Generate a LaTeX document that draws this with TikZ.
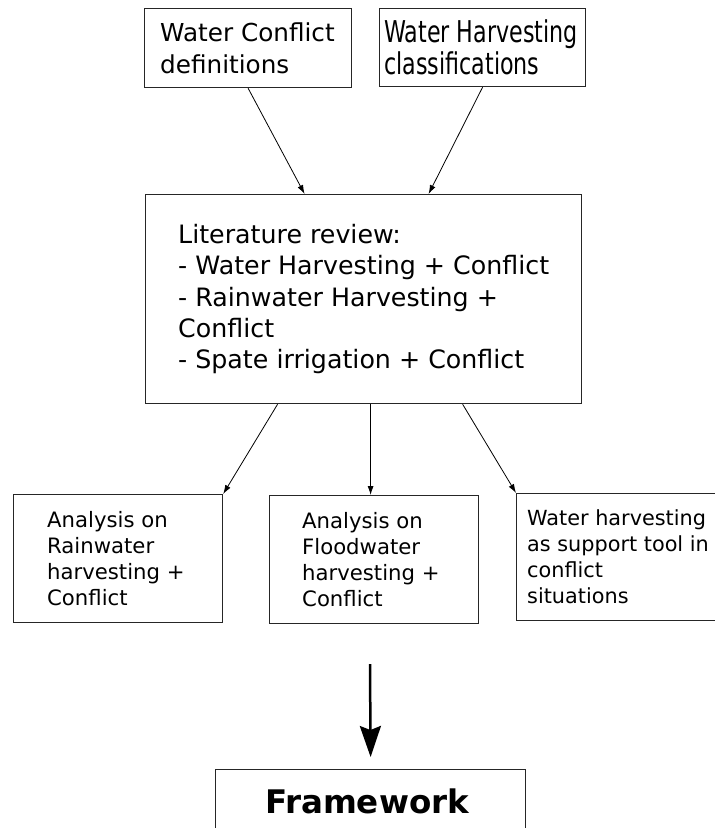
\documentclass[tikz,border=0pt]{standalone}
\usepackage{fontspec}
\setmainfont{DejaVu Sans}
\newfontfamily\narrowsans[FakeStretch=0.74]{DejaVu Sans}
\usetikzlibrary{arrows.meta}

\tikzset{
  box/.style={draw=black!85, line width=1.2pt, rectangle, inner sep=0pt},
  toptxt/.style={inner sep=0pt, align=left, font=\fontsize{24.7}{32}\selectfont},
  narrowtxt/.style={inner sep=0pt, align=left, font=\narrowsans\fontsize{30}{32}\selectfont},
  midtxt/.style={inner sep=0pt, align=left, font=\fontsize{25.3}{31.3}\selectfont},
  lowtxt/.style={inner sep=0pt, align=left, font=\fontsize{21.2}{26}\selectfont},
  thinarrow/.style={draw=black, line width=0.8pt, -{Latex[length=9pt,width=6pt]}},
  bigarrow/.style={draw=black, line width=2.5pt, -{Stealth[length=31pt,width=21pt,inset=4pt]}}
}

\begin{document}
\begin{tikzpicture}[x=1pt,y=-1pt]
\useasboundingbox (0,0) rectangle (715,828);
\clip (0,0) rectangle (715,828);

% top inputs
\node[box, minimum width=207pt, minimum height=79pt, anchor=north west] (wcd) at (144,8) {};
\node[toptxt, anchor=west] (wcdT) at ([xshift=16pt]wcd.west) {Water Conflict\\definitions};

\node[box, minimum width=206pt, minimum height=78pt, anchor=north west] (whc) at (379,8) {};
\node[narrowtxt, anchor=west] (whcT) at ([xshift=5pt]whc.west) {Water Harvesting\\classifications};

% literature review
\node[box, minimum width=436pt, minimum height=209pt, anchor=north west] (lit) at (145,194) {};
\node[midtxt, anchor=west] (litT) at ([xshift=33pt]lit.west) {Literature review:\\- Water Harvesting + Conflict\\- Rainwater Harvesting +\\Conflict\\- Spate irrigation + Conflict};

% analyses
\node[box, minimum width=209pt, minimum height=128pt, anchor=north west] (rain) at (13,494) {};
\node[lowtxt, anchor=west] (rainT) at ([xshift=34pt]rain.west) {Analysis on\\Rainwater\\harvesting +\\Conflict};

\node[box, minimum width=209pt, minimum height=128pt, anchor=north west] (flood) at (269,495) {};
\node[lowtxt, anchor=west] (floodT) at ([xshift=33pt]flood.west) {Analysis on\\Floodwater\\harvesting +\\Conflict};

\node[box, minimum width=230pt, minimum height=127pt, anchor=north west] (tool) at (516,493) {};
\node[lowtxt, anchor=west, font=\fontsize{20.8}{26}\selectfont] (toolT) at ([xshift=11pt]tool.west) {Water harvesting\\as support tool in\\conflict\\situations};

% framework
\node[box, minimum width=310pt, minimum height=100pt, anchor=north west] (fw) at (215,769) {};
\node[inner sep=0pt, font=\bfseries\fontsize{32.5}{38}\selectfont] (fwT) at (367,801) {Framework};

% connectors
\draw[thinarrow] (wcd.south) -- ([xshift=-59pt]lit.north);
\draw[thinarrow] (whc.south) -- ([xshift=65pt]lit.north);
\draw[thinarrow] ([xshift=-86pt]lit.south) -- (rain.north east);
\draw[thinarrow] ([xshift=7pt]lit.south) -- ([xshift=-3.5pt]flood.north);
\draw[thinarrow] ([xshift=99pt]lit.south) -- (tool.north west);

\coordinate (bigstart) at (370,664);
\draw[bigarrow] (bigstart) -- ([yshift=12pt]fw.north);
\end{tikzpicture}
\end{document}
